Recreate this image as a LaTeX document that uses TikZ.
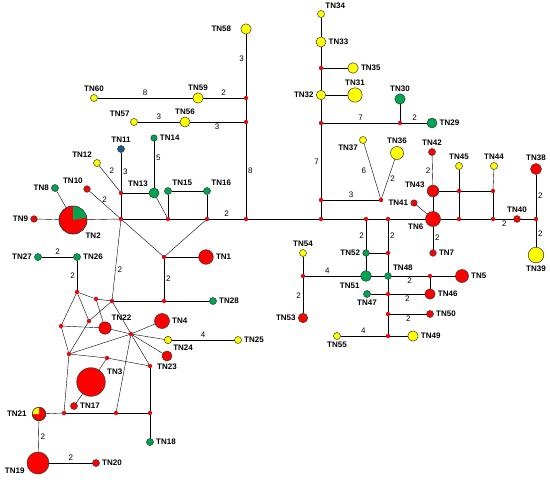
\documentclass[tikz,border=0pt]{standalone}
\usepackage{fontspec}
\setmainfont{Liberation Sans}
\usetikzlibrary{positioning,backgrounds}
\definecolor{HapRed}{HTML}{FF0000}
\definecolor{HapGreen}{HTML}{00A550}
\definecolor{HapYellow}{HTML}{FFFF00}
\definecolor{HapBlue}{HTML}{1C5A80}

\begin{document}
\begin{tikzpicture}[x=1pt,y=-1pt,
    hap/.style={circle,draw=black!80,line width=0.5pt,inner sep=0pt,
                outer sep=0pt,minimum size=#1},
    hap/.default=7pt,
    med/.style={circle,fill=HapRed,draw=HapRed!55!black,line width=0.2pt,
                inner sep=0pt,outer sep=0pt,minimum size=4pt},
    every label/.append style={font=\bfseries\fontsize{8}{9}\selectfont,inner sep=2.5pt},
    num/.style={font=\fontsize{8}{9}\selectfont,inner sep=2pt}]
  \useasboundingbox (0,0) rectangle (550,480);

  % haplotypes
  \node[hap=14.6pt,fill=HapRed,label=right:TN1] (tn1) at (206,257) {};
  \node[hap=28pt,fill=HapRed,label=below right:TN2] (tn2) at (73,220) {};
  \node[hap=28.6pt,fill=HapRed,label=20:TN3] (tn3) at (91,382) {};
  \node[hap=15pt,fill=HapRed,label=right:TN4] (tn4) at (162,321) {};
  \node[hap=13pt,fill=HapRed,label=right:TN5] (tn5) at (462,276) {};
  \node[hap=15pt,fill=HapRed,label=200:TN6] (tn6) at (433,219) {};
  \node[hap=6.6pt,fill=HapRed,label=right:TN7] (tn7) at (433,253) {};
  \node[hap,fill=HapGreen,label=left:TN8] (tn8) at (55,188) {};
  \node[hap=6.6pt,fill=HapRed,label=left:TN9] (tn9) at (34,219) {};
  \node[hap=6.6pt,fill=HapRed,label=120:TN10] (tn10) at (87,189) {};
  \node[hap,fill=HapBlue,label=above:TN11] (tn11) at (121,149) {};
  \node[hap,fill=HapYellow,label=above left:TN12] (tn12) at (97,163) {};
  \node[hap=10pt,fill=HapGreen,label=above left:TN13] (tn13) at (154,193) {};
  \node[hap=6.4pt,fill=HapGreen,label=right:TN14] (tn14) at (154,138) {};
  \node[hap,fill=HapGreen,label=60:TN15] (tn15) at (168,191) {};
  \node[hap,fill=HapGreen,label=60:TN16] (tn16) at (207,191) {};
  \node[hap,fill=HapRed,label=right:TN17] (tn17) at (74,406) {};
  \node[hap,fill=HapGreen,label=right:TN18] (tn18) at (150,442) {};
  \node[hap=22pt,fill=HapRed,label=190:TN19] (tn19) at (38,463) {};
  \node[hap,fill=HapRed,label=right:TN20] (tn20) at (96,463) {};
  \node[hap=13.4pt,fill=HapRed,label={[label distance=3pt]left:TN21}] (tn21) at (39,414) {};
  \node[hap=12.4pt,fill=HapRed,label=50:TN22] (tn22) at (105,328) {};
  \node[hap=10pt,fill=HapRed,label=below:TN23] (tn23) at (167,356) {};
  \node[hap=7.4pt,fill=HapYellow,label=below right:TN24] (tn24) at (168,340) {};
  \node[hap,fill=HapYellow,label=right:TN25] (tn25) at (238,340) {};
  \node[hap,fill=HapGreen,label=right:TN26] (tn26) at (77,257) {};
  \node[hap,fill=HapGreen,label=left:TN27] (tn27) at (38,257) {};
  \node[hap,fill=HapGreen,label=right:TN28] (tn28) at (213,301) {};
  \node[hap=10pt,fill=HapGreen,label=right:TN29] (tn29) at (432,123) {};
  \node[hap=10.4pt,fill=HapGreen,label=above:TN30] (tn30) at (400,99) {};
  \node[hap=14.4pt,fill=HapYellow,label=above:TN31] (tn31) at (355,95) {};
  \node[hap=9.4pt,fill=HapYellow,label=left:TN32] (tn32) at (321,95) {};
  \node[hap=10pt,fill=HapYellow,label=right:TN33] (tn33) at (321,42) {};
  \node[hap,fill=HapYellow,label=60:TN34] (tn34) at (321,14) {};
  \node[hap=10.6pt,fill=HapYellow,label=right:TN35] (tn35) at (353,68) {};
  \node[hap=13pt,fill=HapYellow,label=above:TN36] (tn36) at (397,153) {};
  \node[hap,fill=HapYellow,label=below left:TN37] (tn37) at (363,140) {};
  \node[hap=11pt,fill=HapRed,label=above:TN38] (tn38) at (536,169) {};
  \node[hap=15.6pt,fill=HapYellow,label=below:TN39] (tn39) at (536,255) {};
  \node[hap=6.8pt,fill=HapRed,label=above:TN40] (tn40) at (517,219) {};
  \node[hap=6.4pt,fill=HapRed,label=left:TN41] (tn41) at (414,203) {};
  \node[hap,fill=HapRed,label=above:TN42] (tn42) at (432,152) {};
  \node[hap=11.6pt,fill=HapRed,label=170:TN43] (tn43) at (433,191) {};
  \node[hap,fill=HapYellow,label=above:TN44] (tn44) at (494,166) {};
  \node[hap,fill=HapYellow,label=above:TN45] (tn45) at (459,166) {};
  \node[hap=10.4pt,fill=HapRed,label=right:TN46] (tn46) at (430,294) {};
  \node[hap,fill=HapGreen,label=below:TN47] (tn47) at (367,294) {};
  \node[hap=6.8pt,fill=HapGreen,label=above right:TN48] (tn48) at (388,276) {};
  \node[hap=10.4pt,fill=HapYellow,label=right:TN49] (tn49) at (413,336) {};
  \node[hap,fill=HapRed,label=right:TN50] (tn50) at (430,314) {};
  \node[hap=10.8pt,fill=HapGreen,label=below left:TN51] (tn51) at (366,276) {};
  \node[hap=6.6pt,fill=HapGreen,label=left:TN52] (tn52) at (366,253) {};
  \node[hap=9.4pt,fill=HapRed,label=left:TN53] (tn53) at (303,318) {};
  \node[hap,fill=HapYellow,label=above:TN54] (tn54) at (303,253) {};
  \node[hap,fill=HapYellow,label=below:TN55] (tn55) at (337,336) {};
  \node[hap=10pt,fill=HapYellow,label=above:TN56] (tn56) at (185,122) {};
  \node[hap,fill=HapYellow,label=120:TN57] (tn57) at (134,122) {};
  \node[hap=10.4pt,fill=HapYellow,label={[label distance=7pt]left:TN58}] (tn58) at (246,29) {};
  \node[hap=10.4pt,fill=HapYellow,label=above:TN59] (tn59) at (198,98) {};
  \node[hap,fill=HapYellow,label=above:TN60] (tn60) at (94,98) {};

  % shared haplotypes
  \fill[HapGreen] (tn2.center) -- ++(10:14pt) arc[start angle=10,end angle=90,radius=14pt] -- cycle;
  \draw[black!80,line width=0.5pt] (tn2.center) circle[radius=14pt];
  \fill[HapYellow] (tn21.center) -- ++(90:6.7pt) arc[start angle=90,end angle=180,radius=6.7pt] -- cycle;
  \draw[black!80,line width=0.5pt] (tn21.center) circle[radius=6.7pt];

  % median vectors
  \node[med] (m1) at (121,219) {};
  \node[med] (m2) at (121,193) {};
  \node[med] (m3) at (168,219) {};
  \node[med] (m4) at (207,219) {};
  \node[med] (m5) at (246,219) {};
  \node[med] (m6) at (164,257) {};
  \node[med] (m7) at (164,301) {};
  \node[med] (m8) at (77,292) {};
  \node[med] (m9) at (96,299) {};
  \node[med] (m10) at (112,301) {};
  \node[med] (m11) at (61,326) {};
  \node[med] (m12) at (89,321) {};
  \node[med] (m13) at (131,334) {};
  \node[med] (m14) at (69,354) {};
  \node[med] (m15) at (107,358) {};
  \node[med] (m16) at (150,366) {};
  \node[med] (m17) at (64,413) {};
  \node[med] (m18) at (116,413) {};
  \node[med] (m19) at (150,413) {};
  \node[med] (m20) at (246,98) {};
  \node[med] (m21) at (246,122) {};
  \node[med] (m22) at (321,68) {};
  \node[med] (m23) at (321,123) {};
  \node[med] (m24) at (400,123) {};
  \node[med] (m25) at (321,200) {};
  \node[med] (m26) at (321,219) {};
  \node[med] (m27) at (381,200) {};
  \node[med] (m28) at (366,219) {};
  \node[med] (m29) at (388,219) {};
  \node[med] (m30) at (459,191) {};
  \node[med] (m31) at (493,191) {};
  \node[med] (m32) at (459,219) {};
  \node[med] (m33) at (493,219) {};
  \node[med] (m34) at (536,219) {};
  \node[med] (m35) at (388,253) {};
  \node[med] (m36) at (303,276) {};
  \node[med] (m37) at (430,276) {};
  \node[med] (m38) at (388,294) {};
  \node[med] (m39) at (388,314) {};
  \node[med] (m40) at (388,336) {};

  \begin{scope}[on background layer,line width=1.6pt]
    % left part
    \draw (tn9) -- (tn2);
    \draw (tn8) -- (tn2);
    \draw (tn2) -- (m1);
    \draw (tn10) -- node[num,above]{2} (m1);
    \draw (tn12) -- node[num,pos=0.4,above right]{2} (m2);
    \draw (tn11) -- node[num,right]{3} (m2);
    \draw (m2) -- (m1);
    \draw (m2) -- (tn13);
    \draw (tn14) -- node[num,pos=0.35,right]{5} (tn13);
    \draw (tn13) -- (m3);
    \draw (tn15) -- (m3);
    \draw (tn15) -- (tn16);
    \draw (tn16) -- (m4);
    \draw (m1) -- (m3);
    \draw (m3) -- (m4);
    \draw (m4) -- node[num,above]{2} (m5);
    \draw (m5) -- node[num,right]{8} (m21);
    \draw (m21) -- (m20);
    \draw (m20) -- node[num,pos=0.6,left]{3} (tn58);
    \draw (m21) -- node[num,below]{3} (tn56);
    \draw (tn57) -- node[num,above]{3} (tn56);
    \draw (tn59) -- node[num,above]{2} (m20);
    \draw (tn60) -- node[num,above]{8} (tn59);
    \draw (m1) -- (m6);
    \draw (m6) -- (m4);
    \draw (m6) -- (tn1);
    \draw (m6) -- node[num,right]{2} (m7);
    \draw (m7) -- (tn28);
    \draw (m10) -- (m7);
    \draw (m1) -- node[num,pos=0.62,right]{2} (m10);
    \draw (tn27) -- node[num,above]{2} (tn26);
    \draw (tn26) -- node[num,left]{2} (m8);
    \draw (m8) -- (m9);
    \draw (m9) -- (m10);
    \draw (m8) -- (m11);
    \draw (m8) -- (m12);
    \draw (m9) -- (tn22);
    \draw (m10) -- (m12);
    \draw (m10) -- (m13);
    \draw (m11) -- (tn22);
    \draw (m11) -- (m14);
    \draw (m12) -- (m14);
    \draw (tn22) -- (m13);
    \draw (m14) -- (m13);
    \draw (m14) -- (m15);
    \draw (m15) -- (m16);
    \draw (m15) -- (tn3);
    \draw (tn3) -- (tn17);
    \draw (m13) -- (tn4);
    \draw (m13) -- (tn24);
    \draw (tn24) -- node[num,above]{4} (tn25);
    \draw (m13) -- (tn23);
    \draw (m13) -- (m16);
    \draw (m13) -- (m18);
    \draw (m14) -- (m17);
    \draw (tn21) -- (m17);
    \draw (m17) -- (m18);
    \draw (m18) -- (m19);
    \draw (m16) -- (m19);
    \draw (m19) -- (tn18);
    \draw (tn21) -- node[num,right]{2} (tn19);
    \draw (tn19) -- node[num,above]{2} (tn20);
    % right part
    \draw (m5) -- (m26);
    \draw (m26) -- (m28);
    \draw (m28) -- (m29);
    \draw (m29) -- (tn6);
    \draw (tn6) -- (m32);
    \draw (m32) -- (m33);
    \draw (m33) -- node[num,below]{2} (tn40);
    \draw (tn40) -- (m34);
    \draw (m34) -- node[num,right]{2} (tn38);
    \draw (m34) -- node[num,right]{2} (tn39);
    \draw (tn6) -- (tn41);
    \draw (tn6) -- (tn43);
    \draw (tn43) -- node[num,left]{2} (tn42);
    \draw (tn43) -- (m30);
    \draw (m30) -- (m31);
    \draw (m30) -- (tn45);
    \draw (m31) -- (tn44);
    \draw (m30) -- (m32);
    \draw (m31) -- (m33);
    \draw (tn6) -- node[num,right]{2} (tn7);
    \draw (m26) -- (m25);
    \draw (m25) -- node[num,left]{7} (m23);
    \draw (m23) -- (tn32);
    \draw (tn32) -- (tn31);
    \draw (tn32) -- (m22);
    \draw (m22) -- (tn35);
    \draw (m22) -- (tn33);
    \draw (tn33) -- (tn34);
    \draw (m23) -- node[num,above]{7} (m24);
    \draw (m24) -- (tn30);
    \draw (m24) -- node[num,above]{2} (tn29);
    \draw (m25) -- node[num,above]{3} (m27);
    \draw (m27) -- node[num,left=4pt]{6} (tn37);
    \draw (m27) -- node[num,right]{2} (tn36);
    \draw (m28) -- node[num,left]{2} (tn52);
    \draw (m29) -- node[num,right]{2} (m35);
    \draw (tn52) -- (m35);
    \draw (tn52) -- (tn51);
    \draw (m35) -- (tn48);
    \draw (tn51) -- (tn48);
    \draw (m36) -- node[num,pos=0.4,above]{4} (tn51);
    \draw (m36) -- (tn54);
    \draw (m36) -- node[num,left]{2} (tn53);
    \draw (tn48) -- node[num,below]{2} (m37);
    \draw (m37) -- (tn5);
    \draw (m37) -- (tn46);
    \draw (tn47) -- (m38);
    \draw (m38) -- node[num,below]{2} (tn46);
    \draw (tn48) -- (m38);
    \draw (m38) -- (m39);
    \draw (m39) -- node[num,below]{2} (tn50);
    \draw (m39) -- (m40);
    \draw (tn55) -- node[num,above]{4} (m40);
    \draw (m40) -- (tn49);
  \end{scope}
\end{tikzpicture}
\end{document}
